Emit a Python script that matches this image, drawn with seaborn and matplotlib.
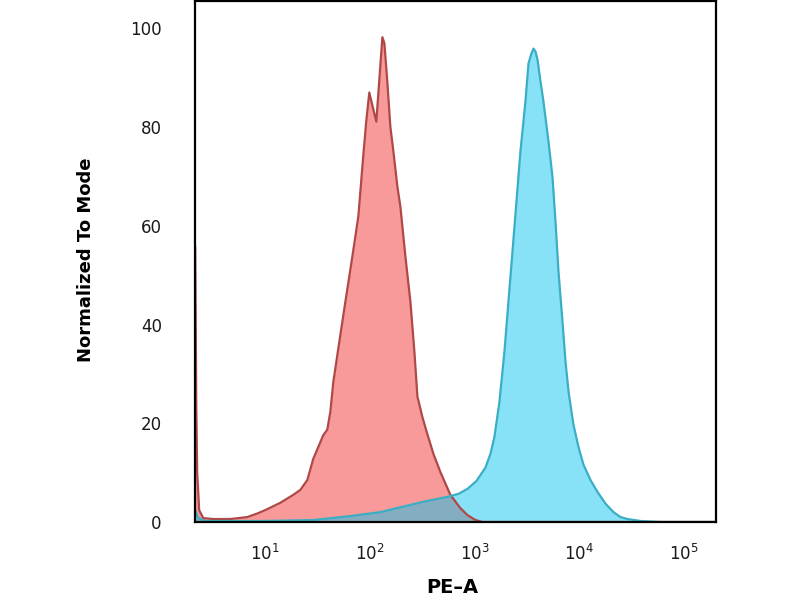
import matplotlib
matplotlib.use("Agg")
import matplotlib.pyplot as plt
import seaborn as sns
import numpy as np
import pandas as pd

# log10(PE-A) positions and % of mode
red_log = [0.330, 0.340, 0.349, 0.368, 0.407, 0.502, 0.665, 0.828, 0.933, 1.019,
           1.144, 1.268, 1.335, 1.402, 1.459, 1.507, 1.555, 1.593, 1.622, 1.651,
           1.708, 1.766, 1.833, 1.890, 1.938, 1.967, 1.995, 2.033, 2.062, 2.091,
           2.120, 2.139, 2.167, 2.196, 2.225, 2.263, 2.292, 2.340, 2.388, 2.426,
           2.455, 2.502, 2.550, 2.608, 2.675, 2.770, 2.866, 2.933, 3.010, 3.077,
           5.310]
red_pct = [55.8, 24.3, 10.1, 2.4, 0.8, 0.6, 0.6, 1.0, 1.8, 2.6,
           3.9, 5.5, 6.5, 8.5, 12.8, 15.2, 17.6, 18.7, 22.3, 28.4,
           36.5, 44.6, 53.8, 61.9, 74.4, 81.5, 87.0, 83.6, 81.1, 89.7,
           98.2, 97.0, 89.2, 80.1, 75.1, 68.0, 63.9, 53.8, 44.6, 34.5,
           25.4, 21.3, 17.8, 13.8, 10.1, 5.5, 2.8, 1.4, 0.4, 0.0,
           0.0]

blue_log = [0.330, 0.359, 0.426, 0.952, 1.459, 1.813, 2.100, 2.512, 2.742, 2.847,
            2.933, 3.019, 3.105, 3.153, 3.191, 3.239, 3.287, 3.325, 3.364, 3.402,
            3.440, 3.488, 3.517, 3.545, 3.565, 3.584, 3.603, 3.632, 3.660, 3.708,
            3.746, 3.775, 3.804, 3.842, 3.871, 3.900, 3.947, 3.995, 4.043, 4.110,
            4.177, 4.254, 4.330, 4.397, 4.464, 4.589, 4.780, 5.310]
blue_pct = [2.4, 0.8, 0.2, 0.2, 0.4, 1.2, 2.0, 4.1, 5.1, 5.7,
            6.7, 8.3, 11.0, 13.8, 17.2, 24.3, 34.5, 44.6, 54.8, 64.9,
            75.1, 85.2, 92.9, 94.9, 95.9, 95.3, 93.7, 89.2, 85.2, 77.1,
            70.0, 60.9, 50.7, 40.6, 32.5, 26.4, 19.7, 15.2, 11.6, 8.5,
            6.1, 3.7, 2.0, 1.0, 0.6, 0.2, 0.0, 0.0]

y_ticks = [0, 20, 40, 60, 80, 100]
x_ticks = [1e1, 1e2, 1e3, 1e4, 1e5]

red = pd.DataFrame({"PE-A": 10 ** np.array(red_log), "pct": red_pct})
blue = pd.DataFrame({"PE-A": 10 ** np.array(blue_log), "pct": blue_pct})

sns.set_style("white")
plt.rcParams["font.family"] = ["DejaVu Sans"]

fig = plt.figure(figsize=(8, 6), dpi=100)
ax = fig.add_axes([0.244, 0.13, 0.651, 0.868])

ax.fill_between(red["PE-A"], red["pct"], color="#f99a9a", lw=0)
sns.lineplot(data=red, x="PE-A", y="pct", color="#b04848", lw=1.6, ax=ax)
ax.fill_between(blue["PE-A"], blue["pct"], color="#00c3f0", alpha=0.47, lw=0)
sns.lineplot(data=blue, x="PE-A", y="pct", color="#3aaec4", lw=1.6, ax=ax)

ax.set_xscale("log")
ax.set_xlim(10 ** 0.330, 10 ** 5.31)
ax.set_ylim(0, 105.5)
ax.set_xticks(x_ticks)
ax.set_yticks(y_ticks)
ax.minorticks_off()
ax.tick_params(axis="both", length=0, labelsize=12, colors="#1a1a1a")
ax.tick_params(axis="x", pad=16)
ax.tick_params(axis="y", pad=24)

for s in ax.spines.values():
    s.set_visible(True)
    s.set_color("black")
    s.set_linewidth(1.6)

ax.set_xlabel("PE\u2013A", fontsize=14, fontweight="bold", color="black")
ax.set_ylabel("Normalized To Mode", fontsize=13, fontweight="bold", color="black")
ax.xaxis.set_label_coords(0.493, -0.108)
ax.yaxis.set_label_coords(-0.192, 0.503)

fig.savefig("out.png", dpi=100)
